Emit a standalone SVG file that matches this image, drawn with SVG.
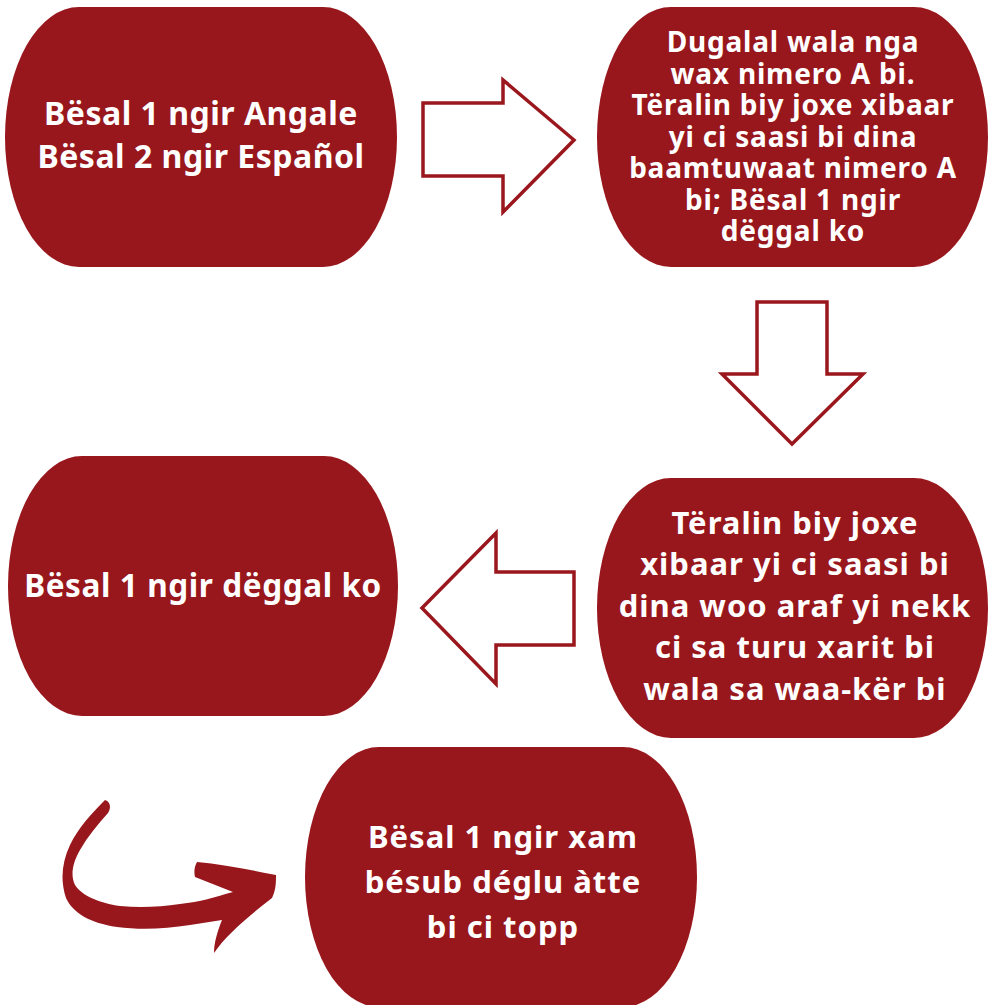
<svg xmlns="http://www.w3.org/2000/svg" width="989" height="1005" viewBox="0 0 989 1005">
<style>
.node{fill:#98171c}
.t{font-family:"Noto Sans","Open Sans",sans-serif;font-weight:bold;fill:#ffffff;text-anchor:middle}
.arr{fill:#ffffff;stroke:#9a171d;stroke-width:3.5;stroke-linejoin:miter}
</style>
<rect width="989" height="1005" fill="#ffffff"/>
<g id="connectors">
<path class="arr" d="M423,103 H503 V80 L574,140 L503,212 V176 H423 Z"/>
<path class="arr" d="M757,302 H827 V374 H863 L792,444 L722,374 H757 Z"/>
<path class="arr" d="M574,572 H496 V533 L422,608 L496,684 V645 H574 Z"/>
<path fill="#98171c" d="M105,800 C92,813 78,828 70,845 C62,862 60,880 66,898 C73,913 90,923 117,927 C140,930 165,929 190,925 L222,920 C218,930 214,942 214,953 C226,935 250,915 272,898 C276,890 276,882 276,875 C250,870 222,864 197,862 C194,867 194,873 195,877 L233,892 C215,897 200,902 180,904 C160,907 140,908 120,906 C100,903 82,896 75,885 C70,875 73,862 80,850 C88,836 98,824 108,813 C111,808 111,802 105,800 Z"/>
</g>
<g id="node1">
<rect class="node" x="5" y="7" width="392" height="260" rx="74" ry="130"/>
<text class="t" font-size="32" letter-spacing="0.5"><tspan x="201" y="125">Bësal 1 ngir Angale</tspan><tspan x="201" y="168">Bësal 2 ngir Español</tspan></text>
</g>
<g id="node2">
<rect class="node" x="597" y="7" width="391" height="260" rx="74" ry="130"/>
<text class="t" font-size="28" letter-spacing="0.8"><tspan x="793" y="52">Dugalal wala nga</tspan><tspan x="793" y="83.5">wax nimero A bi.</tspan><tspan x="793" y="115">Tëralin biy joxe xibaar</tspan><tspan x="793" y="146.5">yi ci saasi bi dina</tspan><tspan x="793" y="178">baamtuwaat nimero A</tspan><tspan x="793" y="209.5">bi; Bësal 1 ngir</tspan><tspan x="793" y="241">dëggal ko</tspan></text>
</g>
<g id="node3">
<rect class="node" x="8" y="456" width="390" height="260" rx="74" ry="130"/>
<text class="t" font-size="31.5" letter-spacing="0.6" x="203" y="597">Bësal 1 ngir dëggal ko</text>
</g>
<g id="node4">
<rect class="node" x="597" y="478" width="391" height="260" rx="74" ry="130"/>
<text class="t" font-size="31" letter-spacing="1"><tspan x="795" y="534">Tëralin biy joxe</tspan><tspan x="795" y="575">xibaar yi ci saasi bi</tspan><tspan x="795" y="617">dina woo araf yi nekk</tspan><tspan x="795" y="658">ci sa turu xarit bi</tspan><tspan x="795" y="700">wala sa waa-kër bi</tspan></text>
</g>
<g id="node5">
<rect class="node" x="305" y="747" width="392" height="260" rx="74" ry="130"/>
<text class="t" font-size="31" letter-spacing="1"><tspan x="503" y="848">Bësal 1 ngir xam</tspan><tspan x="503" y="893">bésub déglu àtte</tspan><tspan x="503" y="938">bi ci topp</tspan></text>
</g>
</svg>
